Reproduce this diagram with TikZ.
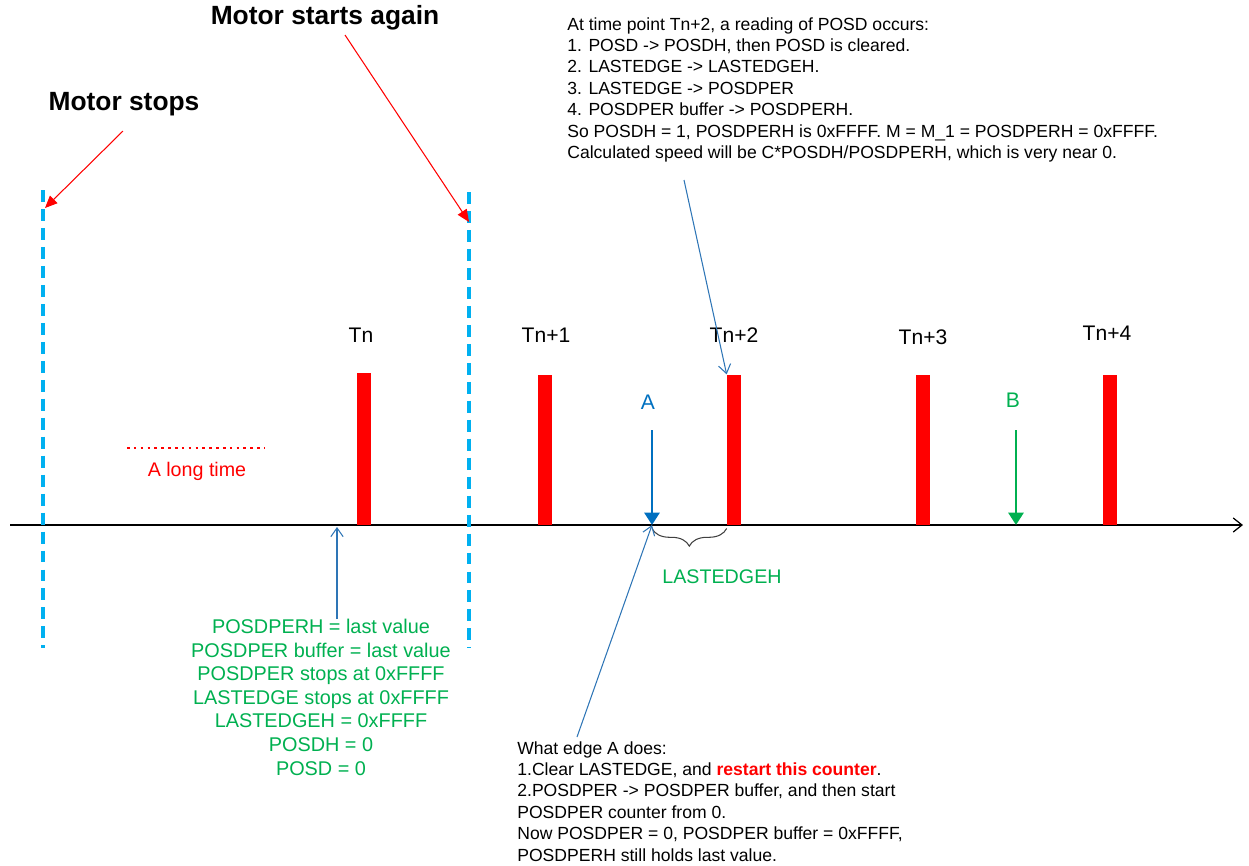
\documentclass[tikz,border=0pt]{standalone}
\usepackage{fontspec}
\setmainfont{Liberation Sans}
\usetikzlibrary{arrows.meta, positioning, calc, decorations.pathreplacing}
\definecolor{stopcyan}{RGB}{0,176,240}
\definecolor{edgeblue}{RGB}{0,112,192}
\definecolor{noteblue}{RGB}{46,117,182}
\definecolor{edgegreen}{RGB}{0,176,80}
\definecolor{pulsered}{RGB}{255,0,0}

\begin{document}
\begin{tikzpicture}[x=0.02cm, y=-0.02cm,
  pulse/.style={fill=pulsered, minimum width=0.28cm, minimum height=3cm, inner sep=0pt, anchor=south},
  tlab/.style={font=\fontsize{12}{14}\selectfont},
  motor/.style={font=\fontsize{15}{18}\selectfont\bfseries},
  note/.style={align=left, inner sep=0pt, anchor=north west, font=\fontsize{10}{12.2}\selectfont},
  gnote/.style={align=center, inner sep=0pt, anchor=north, text=edgegreen, font=\fontsize{11.3}{13.4}\selectfont},
  stopline/.style={stopcyan, line width=2pt, dash pattern=on 6.8pt off 4pt},
  redarrow/.style={pulsered, line width=0.6pt, -{Triangle[length=7pt,width=6pt]}},
  bluearrow/.style={noteblue, line width=0.6pt, -{Straight Barb[length=5pt,width=7pt]}},
  edgearrow/.style={line width=1.6pt, -{Triangle[length=7pt,width=8.5pt]}}
]
  \useasboundingbox (0,0) rectangle (1249,866);

  % time axis
  \coordinate (axL) at (10,525);
  \coordinate (axR) at (1243,525);
  \draw[line width=0.7pt, -{Straight Barb[length=5pt,width=8pt]}] (axL) -- (axR);

  % motor stop / start markers
  \coordinate (stopT) at (43,190);
  \coordinate (stopB) at (43,648);
  \coordinate (startT) at (469,192);
  \coordinate (startB) at (469,648);
  \draw[stopline] (stopT) -- (stopB);
  \draw[stopline] (startT) -- (startB);

  \node[motor] (stops) at (124,104) {Motor stops};
  \node[motor] (starts) at (325,18) {Motor starts again};
  \coordinate (stopsFrom) at (123,131);
  \coordinate (stopsHit) at (45,208);
  \coordinate (startsFrom) at (345,35);
  \coordinate (startsHit) at (469,222);
  \draw[redarrow] (stopsFrom) -- (stopsHit);
  \draw[redarrow] (startsFrom) -- (startsHit);

  % a long time
  \coordinate (longL) at (127,448);
  \coordinate (longR) at (265,448);
  \draw[pulsered, line width=1.3pt, dash pattern=on 1.5pt off 2.4pt] (longL) -- (longR);
  \node[text=pulsered, font=\fontsize{11.2}{13}\selectfont] (longtime) at (197,471) {A long time};

  % position pulses
  \node[pulse, minimum height=3.04cm] (tn0) at (364,525) {};
  \node[pulse] (tn1) at (545,525) {};
  \node[pulse] (tn2) at (734,525) {};
  \node[pulse] (tn3) at (923,525) {};
  \node[pulse] (tn4) at (1110,525) {};
  \node[tlab] (ltn0) at (361,335) {Tn};
  \node[tlab] (ltn1) at (546,335) {Tn+1};
  \node[tlab] (ltn2) at (734,335) {Tn+2};
  \node[tlab] (ltn3) at (923,337) {Tn+3};
  \node[tlab] (ltn4) at (1107,333) {Tn+4};

  % edges A and B
  \coordinate (aTop) at (652,430);
  \coordinate (aTip) at (652,525);
  \coordinate (bTop) at (1016,430);
  \coordinate (bTip) at (1016,525);
  \draw[edgearrow, edgeblue] (aTop) -- (aTip);
  \draw[edgearrow, edgegreen] (bTop) -- (bTip);
  \node[text=edgeblue, tlab] (labA) at (648,402) {A};
  \node[text=edgegreen, tlab] (labB) at (1013,400) {B};

  \draw[black!75, line width=0.6pt, decorate, decoration={brace, mirror, amplitude=10pt}]
    ([yshift=-2pt]aTip) -- ([yshift=-2pt]tn2.south west);
  \node[text=edgegreen, font=\fontsize{11.2}{13}\selectfont] (lastedgeh) at (722,577) {LASTEDGEH};

  % state while stopped
  \node[gnote] (stopped) at (321,619) {%
    POSDPERH = last value\\
    POSDPER buffer = last value\\
    POSDPER stops at 0xFFFF\\
    LASTEDGE stops at 0xFFFF\\
    LASTEDGEH = 0xFFFF\\
    POSDH = 0\\
    POSD = 0};
  \coordinate (stoppedFrom) at (337,619);
  \coordinate (stoppedHit) at (337,527);
  \draw[bluearrow] (stoppedFrom) -- (stoppedHit);

  % reading at Tn+2
  \node[note] (reading) at (567,17) {%
    At time point Tn+2, a reading of POSD occurs:\\
    1. POSD -> POSDH, then POSD is cleared.\\
    2. LASTEDGE -> LASTEDGEH.\\
    3. LASTEDGE -> POSDPER\\
    4. POSDPER buffer -> POSDPERH.\\
    So POSDH = 1, POSDPERH is 0xFFFF. M = M\_1 = POSDPERH = 0xFFFF.\\
    Calculated speed will be C*POSDH/POSDPERH, which is very near 0.};
  \coordinate (readingFrom) at (684,180);
  \draw[bluearrow] (readingFrom) -- (tn2.north west);

  % what edge A does
  \node[note] (edgeA) at (517,741) {%
    What edge A does:\\
    1.Clear LASTEDGE, and \textcolor{pulsered}{\textbf{restart this counter}}.\\
    2.POSDPER -> POSDPER buffer, and then start\\
    POSDPER counter from 0.\\
    Now POSDPER = 0, POSDPER buffer = 0xFFFF,\\
    POSDPERH still holds last value.};
  \coordinate (edgeAFrom) at (577,737);
  \draw[bluearrow] (edgeAFrom) -- (aTip);
\end{tikzpicture}
\end{document}
